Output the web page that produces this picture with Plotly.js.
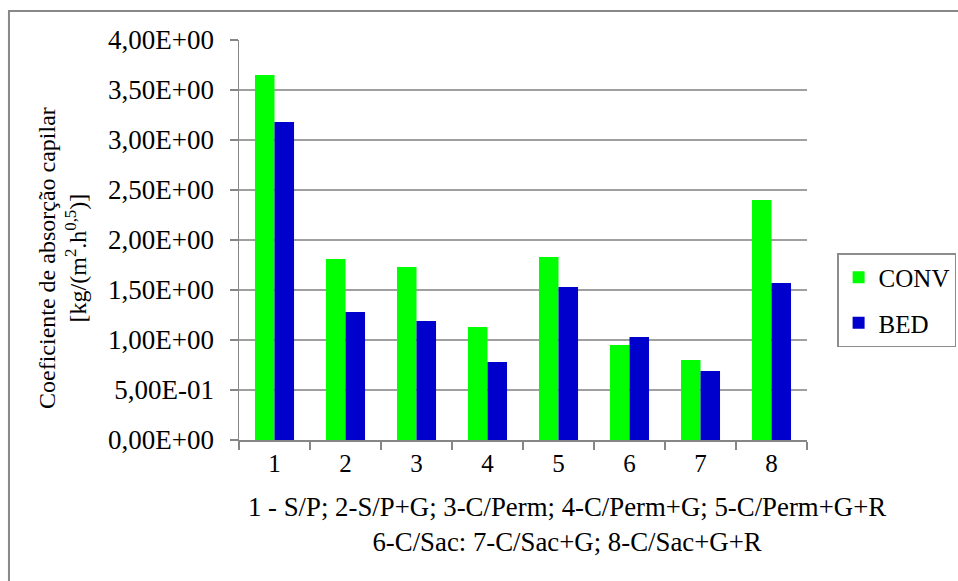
<!DOCTYPE html>
<html>
<head>
<meta charset="utf-8">
<script src="https://cdn.plot.ly/plotly-3.0.1.min.js"></script>
<style>
html,body{margin:0;padding:0;background:#fff;}
#chart{width:958px;height:581px;}
</style>
</head>
<body>
<div id="chart"></div>
<script>
const categories = ["1","2","3","4","5","6","7","8"];
const conv = [3.65, 1.81, 1.73, 1.13, 1.83, 0.95, 0.80, 2.40];
const bed  = [3.18, 1.28, 1.19, 0.78, 1.53, 1.03, 0.69, 1.57];
const yTickVals = [0, 0.5, 1, 1.5, 2, 2.5, 3, 3.5, 4];
const yTickText = ["0,00E+00","5,00E-01","1,00E+00","1,50E+00","2,00E+00","2,50E+00","3,00E+00","3,50E+00","4,00E+00"];
const seriesNames = ["CONV","BED"];
const yTitle = "Coeficiente de absorção capilar<br>[kg/(m<sup>2</sup>.h<sup>0,5</sup>)]";
const xNote = "1 - S/P; 2-S/P+G; 3-C/Perm; 4-C/Perm+G; 5-C/Perm+G+R<br>6-C/Sac: 7-C/Sac+G; 8-C/Sac+G+R";

const font = "'Liberation Serif', 'Times New Roman', serif";

const traces = [
  {type:"bar", name:seriesNames[0], x:categories, y:conv, legendgroup:"a",
   marker:{color:"#00FF00", line:{width:0}}},
  {type:"bar", name:seriesNames[1], x:categories, y:bed, legendgroup:"b",
   marker:{color:"#0000CC", line:{width:0}}}
];

const layout = {
  width:958, height:581,
  margin:{l:239, r:151, t:40, b:141, pad:0, autoexpand:false},
  paper_bgcolor:"#fff", plot_bgcolor:"#fff",
  font:{family:font, size:26, color:"#000"},
  barmode:"group", bargap:0.45, bargroupgap:0,
  xaxis:{type:"category", tickson:"boundaries", ticks:"outside", ticklen:8, tickwidth:1.5,
         tickcolor:"#868686", showline:true, linecolor:"#868686", linewidth:1.5,
         showgrid:false, tickfont:{size:25}, fixedrange:true, automargin:false},
  yaxis:{range:[0,4], tickvals:yTickVals, ticktext:yTickText, ticks:"outside", ticklen:8,
         tickwidth:1.5, tickcolor:"#868686", showline:true, linecolor:"#868686", linewidth:1.5,
         showgrid:true, gridcolor:"#a0a0a0", gridwidth:1.5, zeroline:false,
         ticklabelstandoff:10, tickfont:{size:27}, fixedrange:true, automargin:false},
  legend:{x:1.053, xanchor:"left", y:0.4675, yanchor:"top", bordercolor:"#8c8c8c", borderwidth:1.5,
          bgcolor:"#fff", font:{size:25}, tracegroupgap:10, itemwidth:30},
  annotations:[
    {text:yTitle, xref:"paper", yref:"paper", x:-0.3116, y:0.455, xanchor:"center", yanchor:"middle",
     textangle:-90, showarrow:false, font:{size:24}, align:"center"},
    {text:xNote, xref:"paper", yref:"paper", x:0.5775, y:-0.211, xanchor:"center", yanchor:"middle",
     showarrow:false, font:{size:26.8}, align:"center"}
  ],
  shapes:[
    {type:"rect", xref:"paper", yref:"paper", x0:-0.405, x1:2, y0:-1, y1:1.0725,
     line:{color:"#888888", width:2}, fillcolor:"rgba(0,0,0,0)", layer:"below"}
  ],
  showlegend:true
};

Plotly.newPlot("chart", traces, layout, {displayModeBar:false, staticPlot:true});
</script>
</body>
</html>
